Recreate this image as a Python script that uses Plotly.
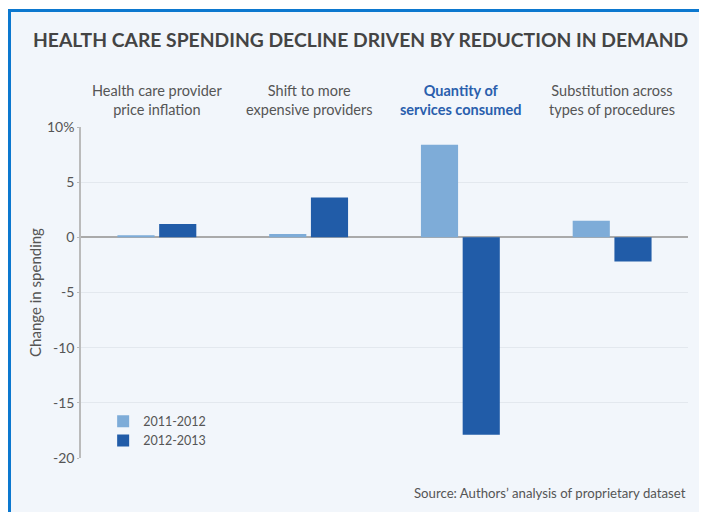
import plotly.graph_objects as go

categories = ["Health care provider<br>price inflation",
              "Shift to more<br>expensive providers",
              "Quantity of<br>services consumed",
              "Substitution across<br>types of procedures"]
cat_ids = ["c1", "c2", "c3", "c4"]
series_names = ["2011-2012", "2012-2013"]
values_2011_2012 = [0.2, 0.3, 8.4, 1.5]
values_2012_2013 = [1.2, 3.6, -17.9, -2.2]
tick_vals = [10, 5, 0, -5, -10, -15, -20]
tick_text = ["10%", "5", "0", "-5", "-10", "-15", "-20"]
cat_colors = ["#555555", "#555555", "#2a5fad", "#555555"]

FONT = "Lato"
GRAY = "#555555"

fig = go.Figure()
fig.add_trace(go.Bar(x=cat_ids, y=values_2011_2012, name=series_names[0],
                     marker=dict(color="#7eacd8", line=dict(width=0))))
fig.add_trace(go.Bar(x=cat_ids, y=values_2012_2013, name=series_names[1],
                     marker=dict(color="#215ca8", line=dict(width=0))))

# frame (figure drawn at page offset 8,8 by the browser body margin)
fig.add_shape(type="rect", xref="paper", yref="paper",
              x0=(1.5 - 73) / 607, x1=1.2, y0=-0.5, y1=(450 - 2.5) / 331,
              line=dict(color="#0c78cf", width=3), fillcolor="#f2f6fb", layer="below")

annotations = []
annotations.append(dict(text="<b>HEALTH CARE SPENDING DECLINE DRIVEN BY REDUCTION IN DEMAND</b>",
                        xref="paper", yref="paper", x=-0.083, y=1.263,
                        xanchor="left", yanchor="middle", showarrow=False,
                        font=dict(family=FONT, size=19.3, color="#444444")))
for cid, lab, col in zip(cat_ids, categories, cat_colors):
    txt = f"<b>{lab}</b>" if col != GRAY else lab
    annotations.append(dict(text=txt, xref="x", yref="paper", x=cid, y=1.022,
                            xanchor="center", yanchor="bottom", showarrow=False,
                            font=dict(family=FONT, size=14.5, color=col)))
annotations.append(dict(text="Source: Authors\u2019 analysis of proprietary dataset",
                        xref="paper", yref="paper", x=1.0, y=-0.107,
                        xanchor="right", yanchor="middle", showarrow=False,
                        font=dict(family=FONT, size=13.2, color=GRAY)))

fig.update_layout(
    width=699, height=504,
    margin=dict(l=73, r=19, t=119, b=54),
    paper_bgcolor="white", plot_bgcolor="#f2f6fb",
    barmode="group", bargap=0.45, bargroupgap=0.11,
    font=dict(family=FONT, color=GRAY, size=14),
    annotations=annotations,
    showlegend=True,
    legend=dict(x=0.0365, y=0.155, xanchor="left", yanchor="top",
                bgcolor="rgba(0,0,0,0)", font=dict(family=FONT, size=12.5, color=GRAY),
                traceorder="normal", itemwidth=30, tracegroupgap=0),
    xaxis=dict(showticklabels=False, showgrid=False, zeroline=False, showline=False,
               fixedrange=True),
    yaxis=dict(range=[-20, 10], tickvals=tick_vals, ticktext=tick_text,
               showgrid=True, gridcolor="#e3e8ee", gridwidth=1,
               zeroline=True, zerolinecolor="#aaaaaa", zerolinewidth=1.5,
               showline=True, linecolor="#bbbbbb", linewidth=1.5,
               ticks="outside", ticklen=2, tickcolor="#bbbbbb",
               tickfont=dict(family=FONT, size=14, color=GRAY),
               title=dict(text="Change in spending", standoff=2,
                          font=dict(family=FONT, size=15, color=GRAY))),
)

fig.write_html("out.html")
